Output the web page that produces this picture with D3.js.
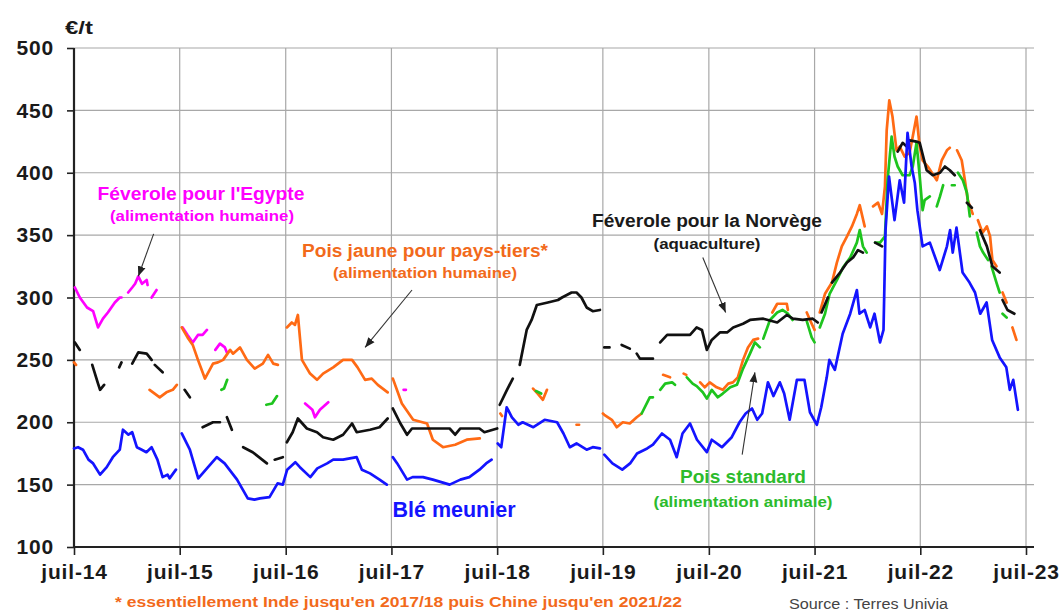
<!DOCTYPE html>
<html>
<head>
<meta charset="utf-8">
<script src="https://cdn.jsdelivr.net/npm/d3@7"></script>
<style>
body { margin: 0; background: #fff; }
svg text { font-family: "Liberation Sans", Arial, sans-serif; }
</style>
</head>
<body>
<svg id="chart" width="1063" height="613"></svg>
<script>
// prix hebdo en €/t, null = pas de cotation
var bleMeunier = [
 ["2014-07-01",179],["2014-07-15",180],["2014-08-01",178],["2014-08-20",170],["2014-09-05",167],["2014-09-29",158],["2014-10-22",164],["2014-11-12",172],["2014-12-06",178],["2014-12-17",194],["2015-01-05",190],["2015-01-18",192],["2015-02-03",180],["2015-02-20",178],["2015-03-08",176],["2015-03-26",180],["2015-04-15",170],["2015-05-03",156],["2015-05-20",158],["2015-05-27",155],["2015-06-18",162],null,
 ["2015-07-08",191],["2015-08-05",178],["2015-09-03",155],["2015-10-03",163],["2015-11-06",172],["2015-12-03",167],["2016-01-15",154],["2016-02-21",139],["2016-03-15",138],["2016-04-03",139],["2016-05-06",140],["2016-06-03",151],["2016-06-21",150],["2016-07-06",162],["2016-08-03",168],["2016-08-19",164],["2016-09-24",156],["2016-10-18",163],["2016-11-21",167],["2016-12-12",170],["2017-01-15",170],["2017-03-03",172],["2017-03-21",162],["2017-04-18",159],["2017-05-21",154],["2017-06-15",150],null,
 ["2017-07-06",172],["2017-07-21",167],["2017-08-24",154],["2017-09-12",156],["2017-10-18",156],["2017-11-21",154],["2017-12-20",152],["2018-01-18",150],["2018-02-24",154],["2018-03-27",156],["2018-05-01",162],["2018-05-24",167],["2018-06-12",170],null,
 ["2018-07-03",183],["2018-07-15",180],["2018-08-03",212],["2018-08-21",204],["2018-09-12",198],["2018-09-27",200],["2018-11-03",196],["2018-12-12",202],["2019-01-24",200],["2019-02-15",191],["2019-03-09",180],["2019-04-01",183],["2019-05-06",178],["2019-05-27",180],["2019-06-21",179],null,
 ["2019-07-06",174],["2019-08-03",167],["2019-09-06",162],["2019-10-03",167],["2019-10-27",175],["2019-12-01",179],["2019-12-21",182],["2020-01-21",191],["2020-02-18",186],["2020-03-12",172],["2020-04-01",191],["2020-04-27",199],["2020-05-21",186],["2020-06-24",176],["2020-07-11",186],["2020-08-15",180],["2020-09-18",188],["2020-10-15",200],["2020-11-05",207],["2020-11-27",211],["2020-12-15",202],["2021-01-01",207],["2021-01-21",232],["2021-02-09",221],["2021-03-03",232],["2021-03-18",223],["2021-04-06",202],["2021-05-01",234],["2021-05-27",234],["2021-06-15",208],["2021-07-09",198],["2021-07-24",212],["2021-08-12",236],["2021-08-21",250],["2021-09-09",242],["2021-10-06",271],["2021-11-01",287],["2021-11-24",306],["2021-12-03",287],["2021-12-21",290],["2022-01-09",276],["2022-01-24",287],["2022-02-12",264],["2022-02-24",274],["2022-03-03",354],["2022-03-15",397],["2022-04-03",362],["2022-04-21",394],["2022-05-06",376],["2022-05-18",432],["2022-06-01",405],["2022-06-12",392],["2022-06-21",370],["2022-07-09",341],["2022-08-03",344],["2022-09-06",322],["2022-10-01",341],["2022-10-12",354],["2022-10-21",336],["2022-11-03",356],["2022-11-24",320],["2022-12-18",312],["2023-01-06",304],["2023-01-24",287],["2023-02-15",296],["2023-03-06",266],["2023-04-01",252],["2023-04-24",244],["2023-05-06",226],["2023-05-18",234],["2023-06-03",210]
];

var feveroleNorvege = [
 ["2014-07-04",264],["2014-07-21",258],null,["2014-09-02",246],["2014-09-22",231],["2014-09-29",226],["2014-10-13",230],null,["2014-12-04",244],["2014-12-12",248],null,
 ["2015-01-18",247],["2015-02-08",256],["2015-03-09",255],["2015-03-26",250],null,["2015-04-06",246],["2015-05-03",240],null,["2015-07-18",226],["2015-08-05",220],null,
 ["2015-09-18",196],["2015-10-24",200],["2015-11-17",200],null,["2015-12-11",204],["2015-12-28",194],null,["2016-02-05",180],["2016-03-09",176],["2016-04-27",167],null,["2016-05-24",170],["2016-06-21",172],null,
 ["2016-07-05",184],["2016-07-25",192],["2016-08-12",203],["2016-09-12",195],["2016-10-17",192],["2016-11-07",188],["2016-12-12",186],["2017-01-15",190],["2017-02-15",199],["2017-03-03",192],["2017-04-18",194],["2017-05-21",196],["2017-06-18",203],null,
 ["2017-07-06",211],["2017-08-01",199],["2017-08-24",190],["2017-09-10",195],["2018-01-18",195],["2018-02-06",190],["2018-02-24",195],["2018-05-01",195],["2018-05-18",192],["2018-07-01",195],null,
 ["2018-07-10",214],["2018-08-04",226],["2018-08-24",235],null,["2018-09-17",246],["2018-10-11",274],["2018-10-28",282],["2018-11-15",294],["2018-12-23",296],["2019-01-27",298],["2019-02-10",300],["2019-03-15",304],["2019-04-01",304],["2019-04-18",300],["2019-05-06",292],["2019-05-27",289],["2019-06-21",290],null,
 ["2019-07-06",260],["2019-07-24",260],null,["2019-09-04",262],["2019-10-02",259],null,["2019-10-26",255],["2019-11-06",251],["2019-12-21",251],null,
 ["2020-01-15",264],["2020-02-08",270],["2020-04-27",270],["2020-05-20",276],["2020-06-07",274],["2020-06-24",258],["2020-07-11",266],["2020-08-08",272],["2020-09-02",272],["2020-09-23",276],["2020-10-27",279],["2020-11-20",282],["2021-01-05",283],["2021-02-22",280],["2021-03-27",286],["2021-04-17",283],["2021-05-21",282],["2021-06-25",283],["2021-07-12",280],null,
 ["2021-07-25",288],["2021-08-16",300],null,["2021-08-30",312],["2021-09-27",320],["2021-10-21",328],["2021-11-11",332],["2021-11-28",338],["2021-12-15",336],null,["2022-01-26",344],["2022-02-19",341],null,
 ["2022-04-14",417],["2022-05-01",424],["2022-05-15",421],["2022-05-25",426],["2022-06-18",425],["2022-06-29",424],["2022-07-23",402],["2022-08-13",398],["2022-09-07",400],["2022-09-24",405],["2022-10-11",402],["2022-10-28",398],null,
 ["2022-12-09",376],["2022-12-26",372],null,["2023-01-23",354],["2023-02-16",341],["2023-03-07",325],["2023-04-01",320],null,["2023-04-11",298],["2023-04-28",290],["2023-05-22",287]
];

var poisJaune = [
 ["2014-07-01",248],["2014-07-08",246],null,
 ["2015-03-19",226],["2015-04-23",220],["2015-05-16",224],["2015-06-07",226],["2015-06-21",230],null,
 ["2015-07-08",276],["2015-07-28",268],["2015-08-15",262],["2015-09-02",250],["2015-09-26",235],["2015-10-24",247],["2015-11-10",248],["2015-11-28",250],["2015-12-22",258],["2016-01-01",255],["2016-01-25",260],["2016-02-18",250],["2016-03-16",243],["2016-04-13",247],["2016-05-01",254],["2016-05-19",247],["2016-06-04",246],null,
 ["2016-07-05",276],["2016-07-22",280],["2016-08-02",278],["2016-08-12",286],["2016-08-26",250],["2016-09-23",239],["2016-10-17",234],["2016-11-07",239],["2016-12-12",244],["2017-01-15",250],["2017-02-15",250],["2017-03-06",244],["2017-04-01",234],["2017-04-24",235],["2017-05-15",230],["2017-06-18",224],null,
 ["2017-07-06",235],["2017-08-06",215],["2017-09-14",202],["2017-11-01",199],["2017-11-21",186],["2017-12-26",180],["2018-02-06",182],["2018-03-18",186],["2018-05-02",187],null,
 ["2018-07-12",207],["2018-07-18",205],null,["2018-11-02",227],["2018-11-18",223],["2018-12-06",218],["2018-12-20",226],null,["2019-04-01",198],["2019-04-10",198],null,
 ["2019-07-01",207],["2019-07-06",206],["2019-08-01",202],["2019-08-18",196],["2019-09-08",200],["2019-10-02",199],["2019-10-26",204],["2019-11-12",207],null,
 ["2020-01-25",238],["2020-02-18",236],null,["2020-04-05",239],["2020-04-14",238],null,
 ["2020-06-01",232],["2020-06-17",228],["2020-07-04",232],["2020-07-28",228],["2020-08-18",226],["2020-09-06",231],["2020-09-22",232],["2020-10-09",236],["2020-10-27",250],["2020-11-13",260],["2020-12-01",266],["2020-12-18",267],null,
 ["2021-02-05",288],["2021-02-22",295],["2021-03-27",295],["2021-03-31",290],null,["2021-06-04",288],["2021-06-21",279],["2021-07-01",274],null,
 ["2021-07-19",288],["2021-08-06",303],["2021-08-30",312],["2021-09-16",328],["2021-10-03",341],["2021-10-21",349],["2021-11-07",357],["2021-11-24",367],["2021-12-04",374],["2021-12-21",357],null,
 ["2022-01-19",373],["2022-02-05",376],["2022-02-19",367],["2022-03-01",389],["2022-03-07",434],["2022-03-16",458],["2022-03-27",445],["2022-04-10",418],["2022-04-21",421],["2022-05-08",413],["2022-05-25",416],["2022-06-05",429],["2022-06-18",445],["2022-06-29",421],["2022-07-09",410],["2022-07-27",405],["2022-08-27",394],["2022-09-13",410],["2022-10-01",418],["2022-10-11",420],null,
 ["2022-11-05",418],["2022-11-21",410],["2022-12-02",394],["2022-12-12",378],["2022-12-29",367],null,["2023-01-16",362],["2023-02-01",352],["2023-02-16",357],["2023-02-27",349],["2023-03-07",330],["2023-03-21",325],null,
 ["2023-04-11",304],["2023-04-25",296],null,["2023-05-15",276],["2023-05-29",266]
];

var poisStandard = [
 ["2015-11-22",226],["2015-12-01",227],["2015-12-12",234],null,
 ["2016-04-25",214],["2016-05-15",215],["2016-06-01",221],null,
 ["2018-11-12",225],["2018-11-30",223],null,
 ["2019-11-12",207],["2019-12-10",220],["2019-12-21",220],null,["2020-01-15",226],["2020-02-01",231],["2020-02-25",232],["2020-03-06",230],null,
 ["2020-04-16",236],["2020-05-06",231],["2020-05-20",229],["2020-06-10",224],["2020-06-24",219],["2020-07-11",226],["2020-08-01",220],["2020-08-18",223],["2020-09-13",228],["2020-10-06",230],["2020-10-27",243],["2020-11-20",255],["2020-12-07",264],["2020-12-24",260],null,
 ["2021-01-05",267],["2021-01-28",282],["2021-02-22",288],["2021-03-12",290],["2021-03-31",287],["2021-04-16",282],null,
 ["2021-06-04",281],["2021-06-21",268],["2021-07-01",264],null,
 ["2021-07-19",276],["2021-08-06",287],["2021-08-22",303],["2021-09-16",314],["2021-10-07",324],["2021-11-01",332],["2021-11-24",344],["2021-12-04",354],["2021-12-15",341],["2021-12-28",336],null,
 ["2022-01-26",344],["2022-02-12",344],["2022-03-01",349],["2022-03-10",394],["2022-03-24",429],["2022-04-03",413],["2022-04-14",405],["2022-05-01",398],["2022-05-25",398],["2022-06-05",405],["2022-06-18",424],["2022-06-29",397],["2022-07-09",370],["2022-07-16",378],["2022-08-03",381],null,
 ["2022-08-27",373],["2022-09-07",381],["2022-09-18",390],null,["2022-10-18",390],["2022-10-28",390],null,
 ["2022-11-08",400],["2022-11-25",394],["2022-12-09",384],["2022-12-19",365],null,["2023-01-12",352],["2023-01-23",341],["2023-02-03",336],["2023-02-20",330],null,
 ["2023-03-04",325],["2023-03-21",312],["2023-04-01",304],null,["2023-04-11",287],["2023-04-25",284]
];

var feveroleEgypte = [
 ["2014-07-04",308],["2014-07-21",300],["2014-08-15",292],["2014-09-05",289],["2014-09-22",276],["2014-10-09",283],["2014-10-26",288],["2014-11-19",296],["2014-12-06",300],["2014-12-12",300],null,
 ["2015-01-04",304],["2015-01-18",308],["2015-01-28",311],["2015-02-08",317],["2015-02-21",311],["2015-03-09",314],["2015-03-12",310],null,["2015-03-26",300],["2015-04-12",306],null,
 ["2015-07-11",276],["2015-07-28",270],["2015-08-15",264],["2015-09-02",270],["2015-09-18",270],["2015-10-03",274],null,["2015-11-01",258],["2015-11-17",263],["2015-12-04",260],["2015-12-11",256],null,
 ["2016-09-06",215],["2016-10-01",210],["2016-10-10",204],["2016-10-27",210],["2016-11-25",216],null,
 ["2017-08-12",226],["2017-08-20",226]
];

var yTicks = [100, 150, 200, 250, 300, 350, 400, 450, 500];
var xTickYears = [2014, 2015, 2016, 2017, 2018, 2019, 2020, 2021, 2022, 2023];

var svg = d3.select("#chart");
var parse = d3.timeParse("%Y-%m-%d");

var x = d3.scaleTime()
  .domain([parse("2014-07-01"), parse("2023-07-01")])
  .range([74, 1026]);
var y = d3.scaleLinear().domain([100, 500]).range([547, 48]);
var xTicks = xTickYears.map(function(yr) { return new Date(yr, 6, 1); });
var xEnd = 1034;

// grille
svg.append("g").selectAll("line.h")
  .data(yTicks.slice(1)).enter().append("line")
  .attr("x1", x.range()[0]).attr("x2", xEnd)
  .attr("y1", function(d) { return y(d); }).attr("y2", function(d) { return y(d); })
  .style("stroke", "#a8a8a8").style("stroke-width", 1.2);
svg.append("g").selectAll("line.v")
  .data(xTicks.slice(1)).enter().append("line")
  .attr("x1", function(d) { return x(d); }).attr("x2", function(d) { return x(d); })
  .attr("y1", y(500)).attr("y2", y(100))
  .style("stroke", "#a8a8a8").style("stroke-width", 1.2);

// axes
var yAxis = svg.append("g")
  .attr("transform", "translate(" + x.range()[0] + ",0)")
  .call(d3.axisLeft(y).tickValues(yTicks).tickSize(7).tickPadding(13));
var xAxis = svg.append("g")
  .attr("transform", "translate(0," + y(100) + ")")
  .call(d3.axisBottom(x).tickValues(xTicks).tickSize(8).tickPadding(9)
    .tickFormat(function(d) { return "juil-" + d3.timeFormat("%y")(d); }));
[yAxis, xAxis].forEach(function(a) {
  a.select(".domain").remove();
  a.selectAll(".tick line").style("stroke", "#222").style("stroke-width", 1.6);
  a.selectAll(".tick text")
    .style("font-size", "21px").style("font-weight", "bold")
    .style("fill", "#1a1a1a").style("letter-spacing", "0.8px");
});
svg.append("line").attr("x1", x.range()[0]).attr("x2", x.range()[0])
  .attr("y1", y(500)).attr("y2", y(100))
  .style("stroke", "#222").style("stroke-width", 2.2);
svg.append("line").attr("x1", x.range()[0]).attr("x2", xEnd)
  .attr("y1", y(100)).attr("y2", y(100))
  .style("stroke", "#222").style("stroke-width", 2.2);

// courbes
var series = [
  { data: feveroleEgypte, color: "#ff00ff" },
  { data: poisJaune, color: "#ff6a14" },
  { data: poisStandard, color: "#1ec41e" },
  { data: feveroleNorvege, color: "#111111" },
  { data: bleMeunier, color: "#1414ff" }
];
var line = d3.line()
  .defined(function(d) { return d !== null; })
  .x(function(d) { return x(d.date); })
  .y(function(d) { return y(d.v); });

series.forEach(function(s) {
  var pts = s.data.map(function(d) { return d && { date: parse(d[0]), v: d[1] }; });
  svg.append("path").datum(pts)
    .attr("d", line)
    .style("fill", "none")
    .style("stroke", s.color)
    .style("stroke-width", 2.7)
    .style("stroke-linejoin", "round")
    .style("stroke-linecap", "round");
});

// fleches
svg.append("defs").append("marker")
  .attr("id", "head").attr("viewBox", "0 -5 10 10")
  .attr("refX", 10).attr("refY", 0)
  .attr("markerWidth", 10).attr("markerHeight", 10)
  .attr("markerUnits", "userSpaceOnUse").attr("orient", "auto")
  .append("path").attr("d", "M0,-4L10,0L0,4Z").style("fill", "#222");

var arrows = [
  [["2015-04-02", 351], ["2015-02-08", 317]],
  [["2017-09-10", 306], ["2017-04-01", 260]],
  [["2020-06-10", 332], ["2020-08-28", 288]],
  [["2020-10-24", 174], ["2020-12-07", 240]]
];
arrows.forEach(function(a) {
  svg.append("line")
    .attr("x1", x(parse(a[0][0]))).attr("y1", y(a[0][1]))
    .attr("x2", x(parse(a[1][0]))).attr("y2", y(a[1][1]))
    .style("stroke", "#333").style("stroke-width", 1.1)
    .attr("marker-end", "url(#head)");
});

// textes
function label(txt, xx, yy, size, color, w, anchor, weight) {
  svg.append("text")
    .attr("x", xx).attr("y", yy)
    .attr("text-anchor", anchor || "middle")
    .attr("textLength", w).attr("lengthAdjust", "spacingAndGlyphs")
    .style("font-size", size + "px")
    .style("font-weight", weight || "bold")
    .style("fill", color)
    .text(txt);
}
label("€/t", 65, 34, 19, "#1a1a1a", 28, "start");
label("Féverole pour l'Egypte", 201, 200, 18, "#ff00ff", 207);
label("(alimentation humaine)", 202, 221, 15, "#ff00ff", 184);
label("Pois jaune pour pays-tiers*", 425, 257, 18, "#f26a1b", 246);
label("(alimentation humaine)", 425, 278, 15, "#f26a1b", 184);
label("Féverole pour la Norvège", 707, 227, 18, "#1a1a1a", 230);
label("(aquaculture)", 707, 249, 15, "#1a1a1a", 107);
label("Pois standard", 743, 483, 18, "#2cbb2c", 126);
label("(alimentation animale)", 743, 507, 15, "#2cbb2c", 179);
label("Blé meunier", 454, 517, 22, "#1414ff", 123);
label("* essentiellement Inde jusqu'en 2017/18 puis Chine jusqu'en 2021/22", 115, 607, 14, "#f26a1b", 567, "start");
label("Source : Terres Univia", 789, 609, 14, "#444", 159, "start", "normal");
</script>
</body>
</html>
